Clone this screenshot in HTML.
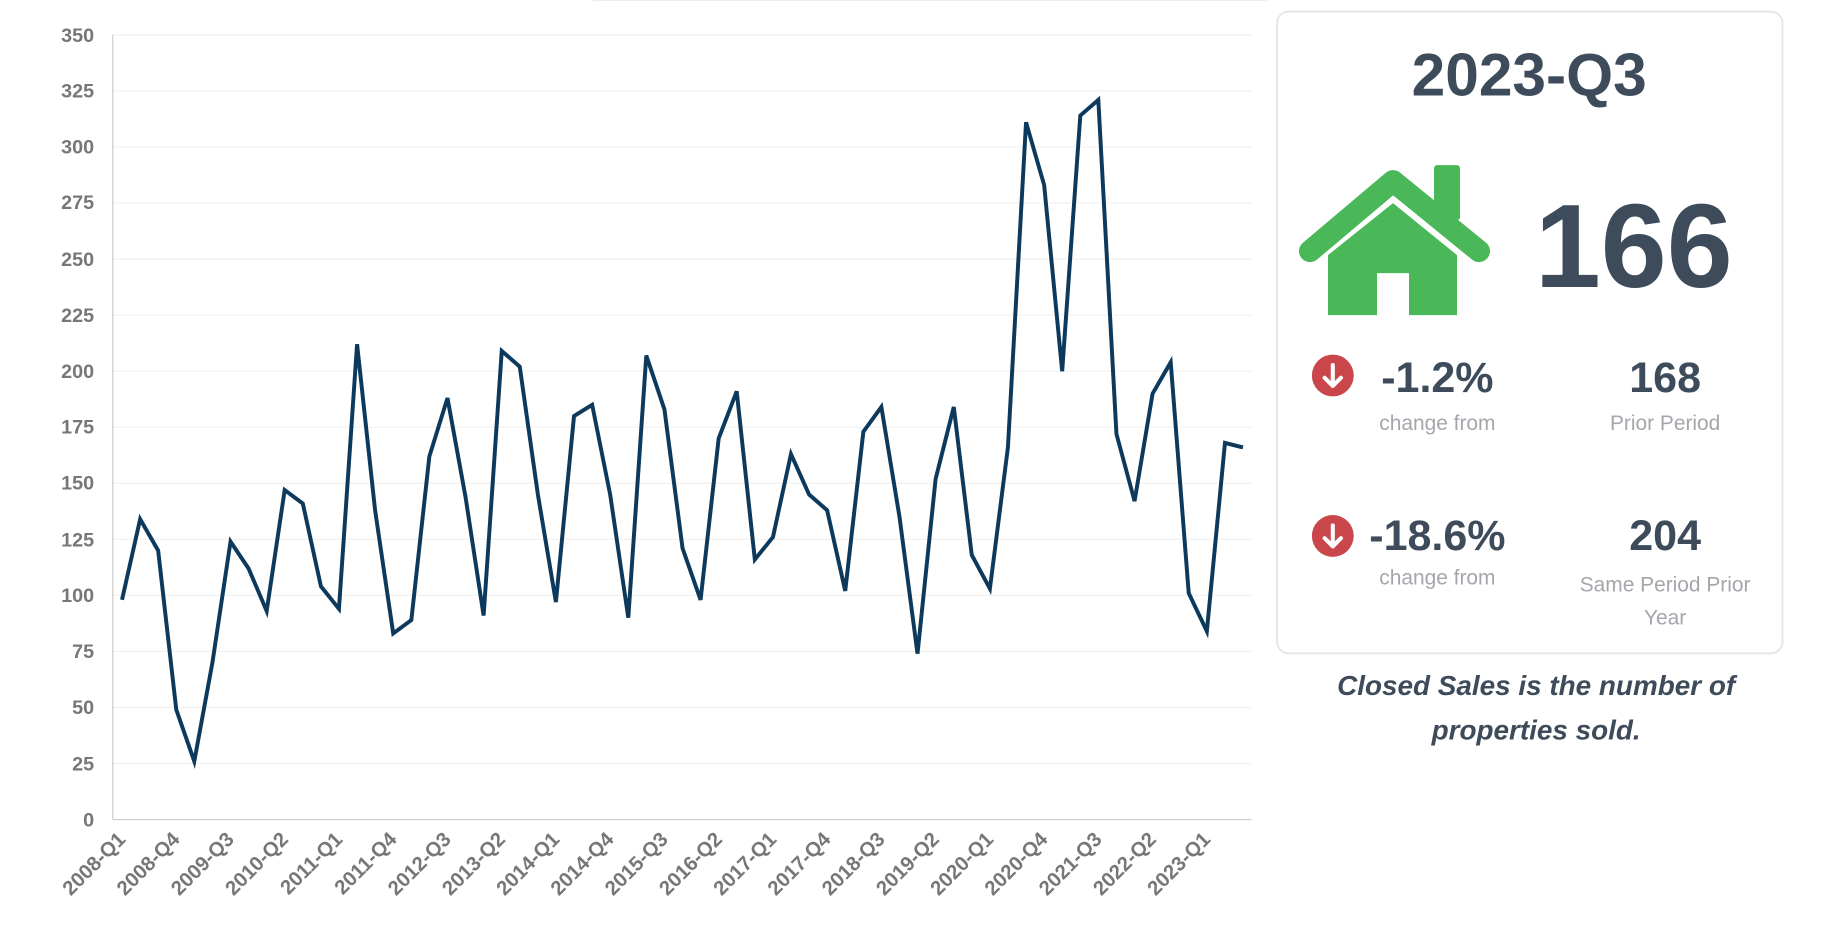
<!DOCTYPE html>
<html><head><meta charset="utf-8"><style>
html,body{margin:0;padding:0;background:#fff;width:1822px;height:930px;overflow:hidden}
svg{display:block}
text{font-family:"Liberation Sans",sans-serif}
</style></head><body>
<svg width="1822" height="930" viewBox="0 0 1568 800" preserveAspectRatio="none">
<line x1="510" y1="0.5" x2="1090" y2="0.5" stroke="#eee"/>
<g stroke="#f0f0f0" stroke-width="1">
<line x1="97" y1="30" x2="1077" y2="30"/><line x1="97" y1="78.2" x2="1077" y2="78.2"/><line x1="97" y1="126.4" x2="1077" y2="126.4"/><line x1="97" y1="174.6" x2="1077" y2="174.6"/><line x1="97" y1="222.9" x2="1077" y2="222.9"/><line x1="97" y1="271.1" x2="1077" y2="271.1"/><line x1="97" y1="319.3" x2="1077" y2="319.3"/><line x1="97" y1="367.5" x2="1077" y2="367.5"/><line x1="97" y1="415.7" x2="1077" y2="415.7"/><line x1="97" y1="463.9" x2="1077" y2="463.9"/><line x1="97" y1="512.1" x2="1077" y2="512.1"/><line x1="97" y1="560.4" x2="1077" y2="560.4"/><line x1="97" y1="608.6" x2="1077" y2="608.6"/><line x1="97" y1="656.8" x2="1077" y2="656.8"/>
</g>
<line x1="97" y1="30" x2="97" y2="705" stroke="#ccc"/>
<line x1="97" y1="705" x2="1077" y2="705" stroke="#ccc"/>
<g font-size="17" font-weight="bold" fill="#777" text-anchor="end">
<text x="81" y="36">350</text><text x="81" y="84">325</text><text x="81" y="132">300</text><text x="81" y="180">275</text><text x="81" y="229">250</text><text x="81" y="277">225</text><text x="81" y="325">200</text><text x="81" y="373">175</text><text x="81" y="421">150</text><text x="81" y="470">125</text><text x="81" y="518">100</text><text x="81" y="566">75</text><text x="81" y="614">50</text><text x="81" y="663">25</text><text x="81" y="711">0</text>
</g>
<g font-size="17.5" font-weight="bold" fill="#777" text-anchor="end" id="xl"></g>
<polyline id="ln" fill="none" stroke="#0d3a5c" stroke-width="3.4" stroke-linejoin="miter" points=""/>
<rect x="1099" y="10" width="435" height="552" rx="10" fill="#fff" stroke="#e4e4e4" stroke-width="1.5"/>
<text x="1316" y="82" text-anchor="middle" font-size="52" font-weight="bold" fill="#3d4b5a">2023-Q3</text>
<g transform="scale(0.8606)" fill="#4ab858">
<path d="M1310,251 L1393,181 L1479,251" fill="none" stroke="#4ab858" stroke-width="22" stroke-linecap="round" stroke-linejoin="round"/>
<rect x="1434" y="165" width="26" height="55" rx="3"/>
<polygon points="1328,255 1393,203 1457,255 1457,315 1409,315 1409,273 1377,273 1377,315 1328,315"/>
</g>
<text x="1406" y="247" text-anchor="middle" font-size="102" font-weight="bold" fill="#3d4b5a">166</text>
<circle cx="1147" cy="323" r="18" fill="#c9474a"/>
<path d="M1147,314 V331 M1140,325 L1147,332 L1154,325" stroke="#fff" stroke-width="3.5" fill="none" stroke-linecap="round" stroke-linejoin="round"/>
<circle cx="1147" cy="461" r="18" fill="#c9474a"/>
<path d="M1147,452 V469 M1140,463 L1147,470 L1154,463" stroke="#fff" stroke-width="3.5" fill="none" stroke-linecap="round" stroke-linejoin="round"/>
<g text-anchor="middle" font-weight="bold" fill="#3d4b5a" font-size="37">
<text x="1237" y="337">-1.2%</text><text x="1433" y="337">168</text>
<text x="1237" y="473">-18.6%</text><text x="1433" y="473">204</text>
</g>
<g text-anchor="middle" fill="#a3a7ab" font-size="18">
<text x="1237" y="370">change from</text><text x="1433" y="370">Prior Period</text>
<text x="1237" y="503">change from</text><text x="1433" y="509">Same Period Prior</text><text x="1433" y="537">Year</text>
</g>
<g text-anchor="middle" fill="#3d4b5a" font-size="24" font-weight="bold" font-style="italic">
<text x="1322" y="598">Closed Sales is the number of</text>
<text x="1322" y="636">properties sold.</text>
</g>
</svg>
<script>
var d=[98,134,120,49,26,70,124,112,93,147,141,104,94,212,138,83,89,162,188,144,91,209,202,145,97,180,185,145,90,207,183,121,98,170,191,116,126,163,145,138,102,173,184,135,74,152,184,118,103,166,311,283,200,314,321,172,142,190,204,101,84,168,166];
var p=[];for(var i=0;i<d.length;i++){p.push((105+i*15.56).toFixed(1)+","+(705-d[i]*675/350).toFixed(1));}
document.getElementById("ln").setAttribute("points",p.join(" "));
var g=document.getElementById("xl"),ns="http://www.w3.org/2000/svg";
for(var i=0;i<=60;i+=3){var y=2008+Math.floor(i/4),q=i%4+1;var x=105+i*15.56+4;var t=document.createElementNS(ns,"text");
t.setAttribute("transform","translate("+x+",723) rotate(-45)");t.textContent=y+"-Q"+q;g.appendChild(t);}
</script>
</body></html>
